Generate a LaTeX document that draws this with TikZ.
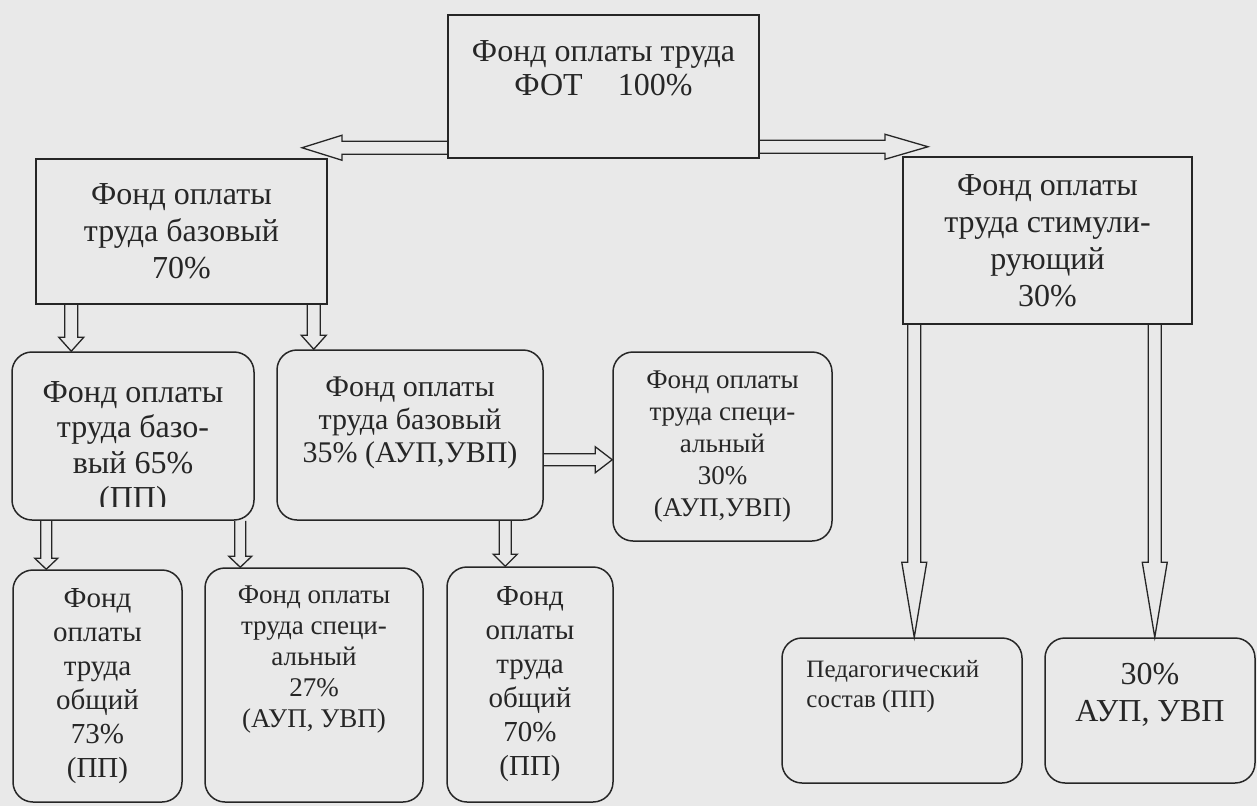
\documentclass[tikz,border=0pt]{standalone}
\usepackage{fontspec}
\setmainfont{Liberation Serif}
\usetikzlibrary{calc}
\definecolor{bg}{RGB}{233,233,233}
\definecolor{ink}{RGB}{38,38,38}
% vertical block arrow: start, end (tip y), shaft half width, head half width, head length
\newcommand\darr[5]{\draw[arr] let \p1=(#1),\p2=(#2) in
  ({\x1-#3},\y1) -- ({\x1-#3},{\y2+#5}) -- ({\x1-#4},{\y2+#5}) -- (\x1,\y2) --
  ({\x1+#4},{\y2+#5}) -- ({\x1+#3},{\y2+#5}) -- ({\x1+#3},\y1);}
% horizontal block arrow: start, end (tip x), shaft half width, head half width, signed head length
\newcommand\harr[5]{\draw[arr] let \p1=(#1),\p2=(#2) in
  (\x1,{\y1+#3}) -- ({\x2-(#5)},{\y1+#3}) -- ({\x2-(#5)},{\y1+#4}) -- (\x2,\y1) --
  ({\x2-(#5)},{\y1-#4}) -- ({\x2-(#5)},{\y1-#3}) -- (\x1,{\y1-#3});}
\begin{document}
\begin{tikzpicture}[x=1pt,y=-1pt,
  box/.style={draw=ink, line width=1.5pt, text=ink, align=center, inner sep=0pt, minimum width=#1},
  rbox/.style={box=#1, rounded corners=20pt},
  txt/.style={text=ink, align=center, inner sep=0pt},
  fa/.style={font=\fontsize{32}{37}\selectfont},
  fb/.style={font=\fontsize{30}{33}\selectfont},
  fc/.style={font=\fontsize{27}{31}\selectfont},
  fd/.style={font=\fontsize{29}{34}\selectfont},
  fe/.style={font=\fontsize{25}{30}\selectfont},
  arr/.style={draw=ink, line width=1.3pt, line join=miter}]
\fill[bg] (0,0) rectangle (1257,806);
\useasboundingbox (0,0) rectangle (1257,806);

% boxes
\node[box=311pt, minimum height=143pt] (top) at (603.5,86.5) {};
\node[txt, font=\fontsize{32}{34}\selectfont, anchor=north] (toptxt) at ([yshift=-26pt]top.north) {Фонд оплаты труда\\ФОТ\hspace{1.1em}100\%};

\node[box=291pt, minimum height=145pt, fa] (lbox) at (181.5,231.5) {Фонд оплаты\\труда базовый\\70\%};
\node[box=289pt, minimum height=167pt, fa] (rbox) at (1047.5,240.5) {Фонд оплаты\\труда стимули-\\рующий\\30\%};

\node[rbox=242pt, minimum height=168pt] (b65) at (133,436) {};
\begin{scope}
\clip (12,352) rectangle (254,506);
\node[txt, anchor=north, font=\fontsize{32}{35.5}\selectfont] (b65txt) at ([yshift=-30pt]b65.north) {Фонд оплаты\\труда базо-\\вый 65\%\\(ПП)};
\end{scope}

\node[rbox=266pt, minimum height=170pt] (b35) at (410,435) {};
\node[txt, fb, anchor=north] (b35txt) at ([yshift=-27pt]b35.north) {Фонд оплаты\\труда базовый\\35\% (АУП,УВП)};

\node[rbox=219pt, minimum height=189pt, font=\fontsize{27}{32}\selectfont] (b30s) at (722.5,446.5) {Фонд оплаты\\труда специ-\\альный\\30\%\\(АУП,УВП)};

\node[rbox=169pt, minimum height=232pt, fd] (b73) at (97.5,686) {Фонд\\оплаты\\труда\\общий\\73\%\\(ПП)};
\node[rbox=218pt, minimum height=234pt] (b27) at (314,685) {};
\node[txt, fc, anchor=north] (b27txt) at ([yshift=-18pt]b27.north) {Фонд оплаты\\труда специ-\\альный\\27\%\\(АУП, УВП)};
\node[rbox=166pt, minimum height=235pt, fd] (b70) at (530,684.5) {Фонд\\оплаты\\труда\\общий\\70\%\\(ПП)};

\node[rbox=240pt, minimum height=145pt] (bped) at (902,710.5) {};
\node[txt, fe, anchor=north west, align=left] (bpedtxt) at ([xshift=25pt,yshift=-23pt]bped.north west) {Педагогический\\состав (ПП)};
\node[rbox=210pt, minimum height=145pt] (baup) at (1150,710.5) {};
\node[txt, fa, anchor=north] (bauptxt) at ([yshift=-26pt]baup.north) {30\%\\АУП, УВП};

% free arrow tips
\coordinate (ltip) at (302,147);
\coordinate (rtip) at (928,146);

% arrows
\harr{[yshift=11pt]top.south west}{ltip}{6.5}{12.5}{-40}
\harr{[yshift=12pt]top.south east}{rtip}{6.5}{12.5}{43}
\darr{[xshift=36pt]lbox.south west}{b65.north}{6.5}{12.5}{14}
\darr{[xshift=-14pt]lbox.south east}{b35.north}{6.5}{12.5}{14}
\darr{[xshift=35pt]b65.south west}{b73.north}{5.5}{11.5}{11}
\darr{[xshift=229pt]b65.south west}{b27.north}{5.5}{11.5}{11}
\darr{[xshift=229pt]b35.south west}{b70.north}{6}{12}{12}
\harr{[yshift=61pt]b35.south east}{b30s.west}{6}{13}{17}
\darr{[xshift=12pt]rbox.south west}{bped.north}{6.5}{12.5}{75}
\darr{[xshift=-38pt]rbox.south east}{baup.north}{6.5}{12.5}{75}
\end{tikzpicture}
\end{document}
